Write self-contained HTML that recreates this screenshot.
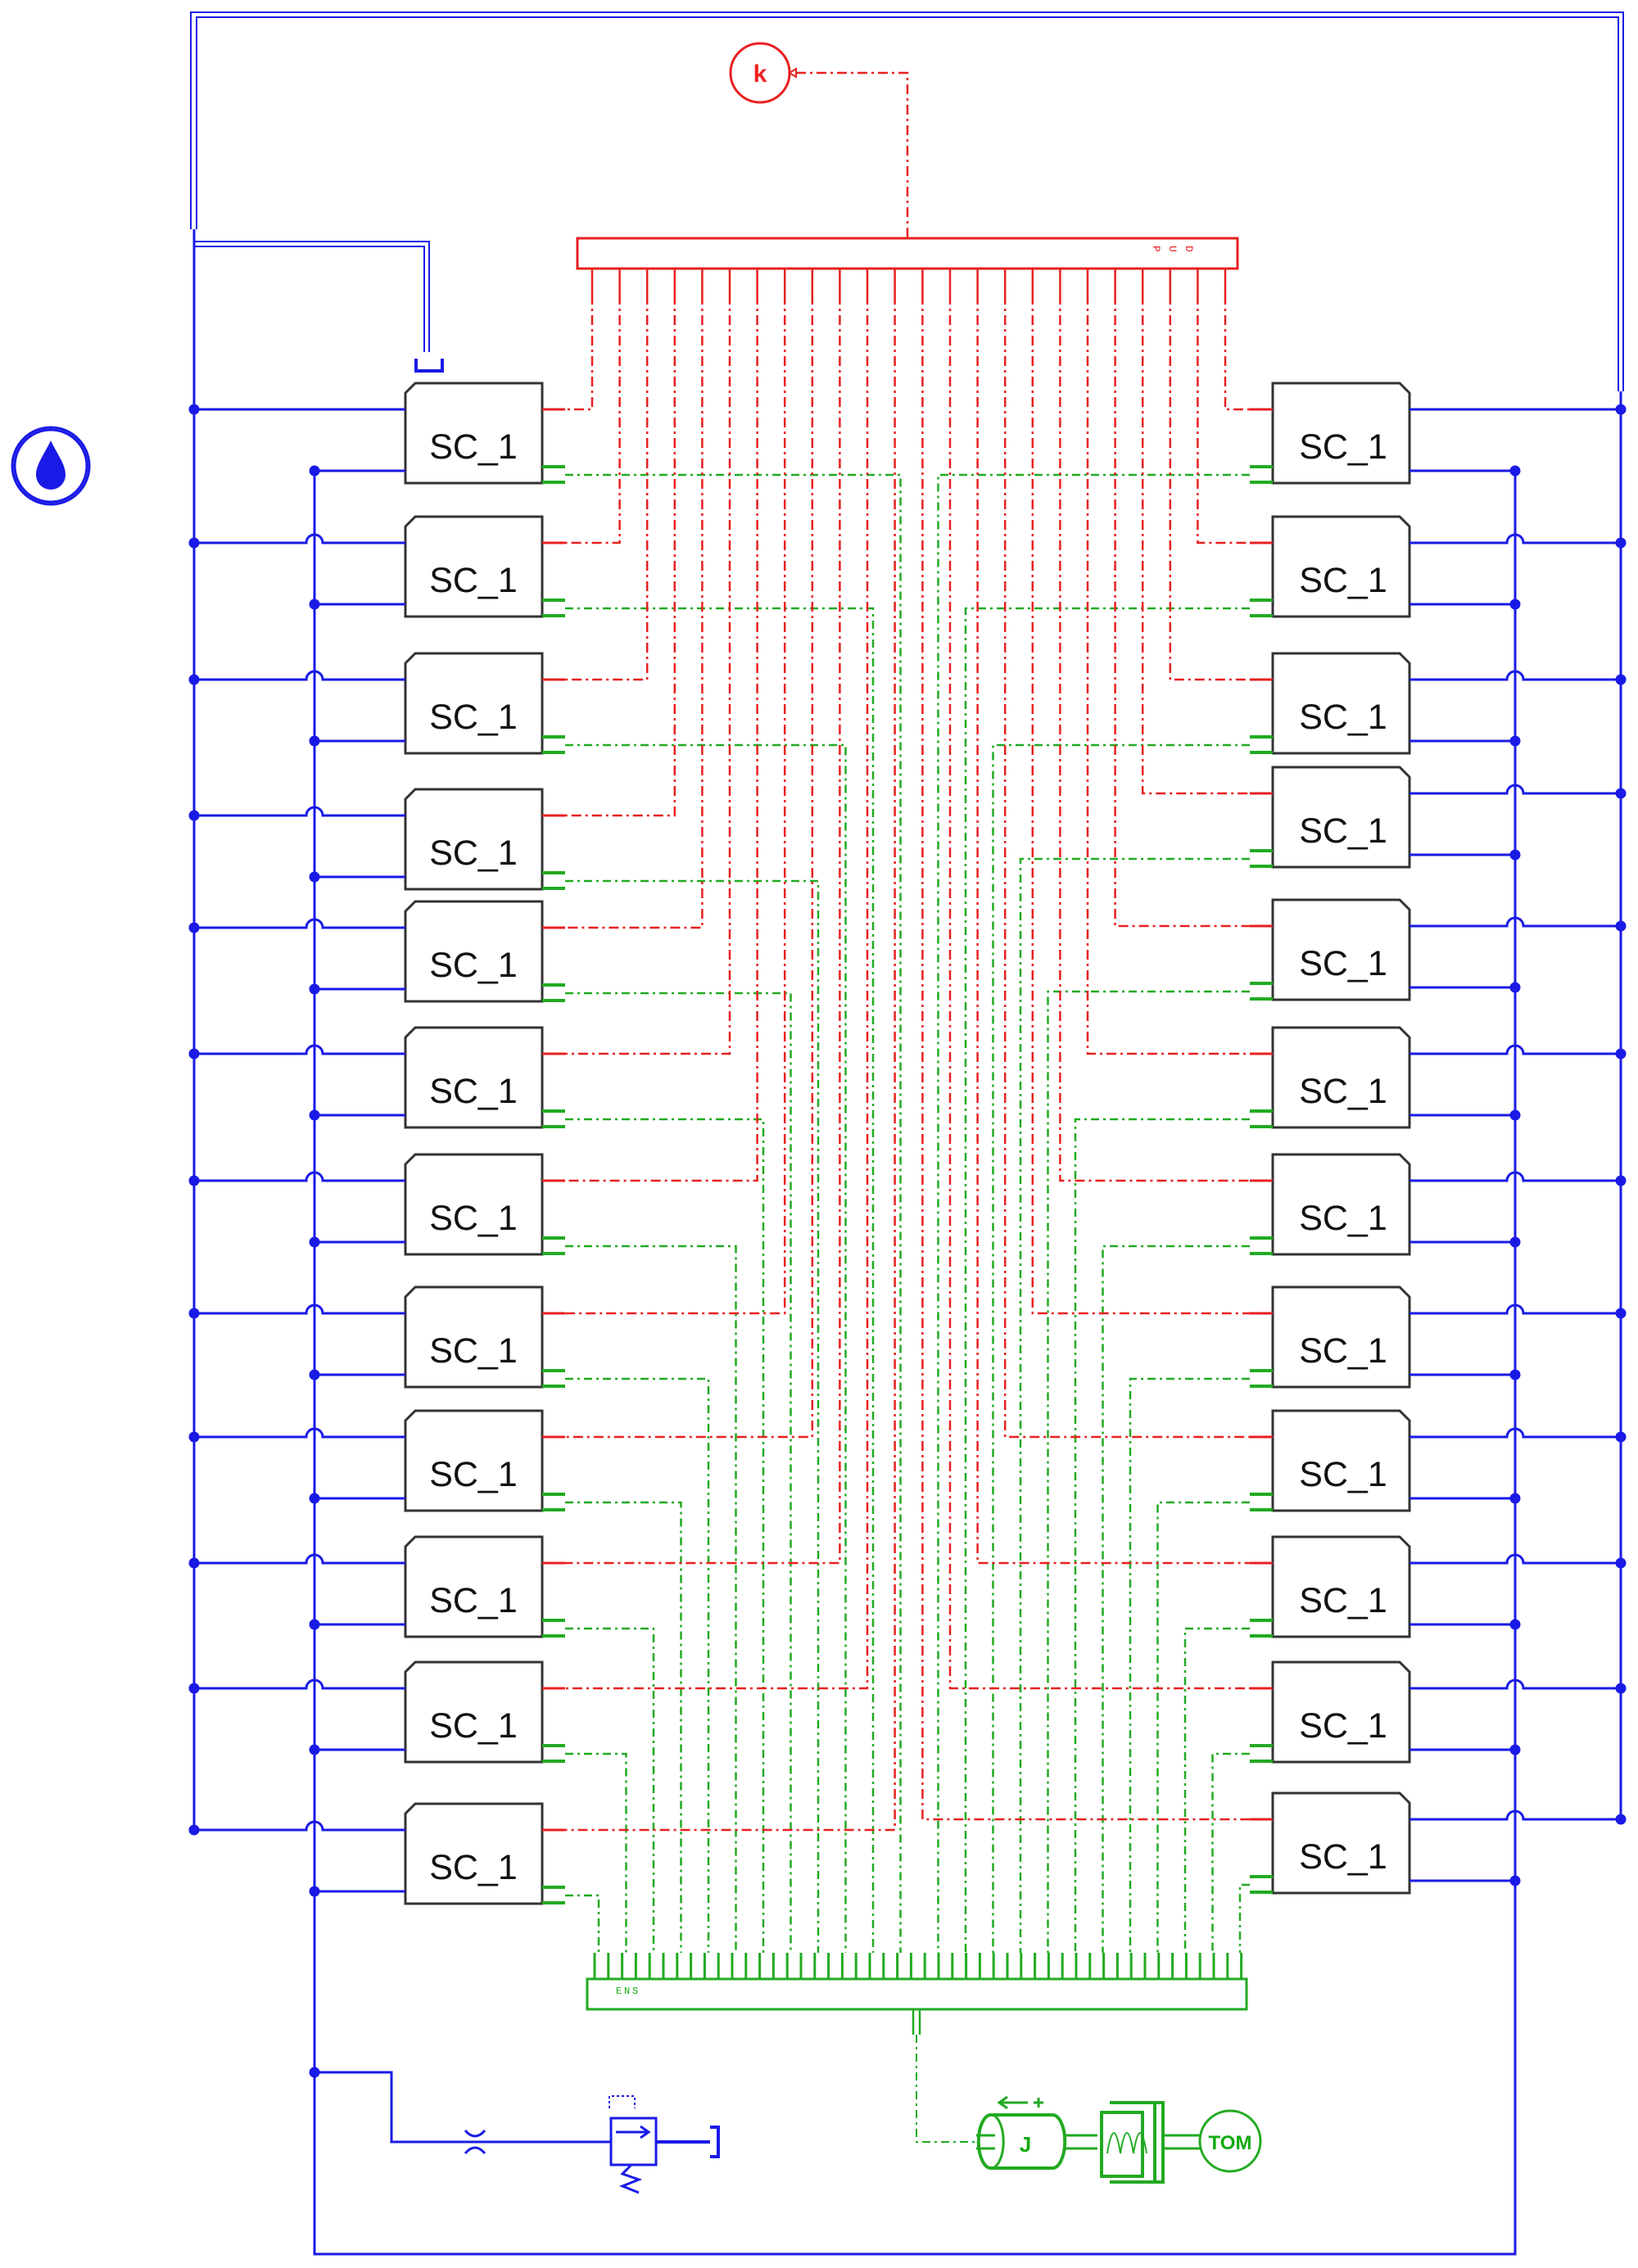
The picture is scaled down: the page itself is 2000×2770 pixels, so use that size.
<!DOCTYPE html>
<html><head><meta charset="utf-8"><style>
html,body{margin:0;padding:0;background:#fff;}
svg{display:block;}
</style></head><body>
<svg id="s" width="2000" height="2770" viewBox="0 0 2000 2770" xmlns="http://www.w3.org/2000/svg">
<g id="g"></g>
<g font-family="Liberation Sans, sans-serif" font-size="43" fill="#111" text-anchor="middle">
<text x="578" y="560">SC_1</text><text x="578" y="723">SC_1</text><text x="578" y="890">SC_1</text><text x="578" y="1056">SC_1</text><text x="578" y="1193">SC_1</text><text x="578" y="1347">SC_1</text><text x="578" y="1502">SC_1</text><text x="578" y="1664">SC_1</text><text x="578" y="1815">SC_1</text><text x="578" y="1969">SC_1</text><text x="578" y="2122">SC_1</text><text x="578" y="2295">SC_1</text>
<text x="1640" y="560">SC_1</text><text x="1640" y="723">SC_1</text><text x="1640" y="890">SC_1</text><text x="1640" y="1029">SC_1</text><text x="1640" y="1191">SC_1</text><text x="1640" y="1347">SC_1</text><text x="1640" y="1502">SC_1</text><text x="1640" y="1664">SC_1</text><text x="1640" y="1815">SC_1</text><text x="1640" y="1969">SC_1</text><text x="1640" y="2122">SC_1</text><text x="1640" y="2282">SC_1</text>
</g>
<text x="928" y="100" font-family="Liberation Sans, sans-serif" font-size="30" font-weight="bold" fill="#e22" text-anchor="middle">k</text>
<text x="1252" y="2628" font-family="Liberation Sans, sans-serif" font-size="26" font-weight="bold" fill="#1a1" text-anchor="middle">J</text>
<text x="1502" y="2625" font-family="Liberation Sans, sans-serif" font-size="24" font-weight="bold" fill="#1a1" text-anchor="middle">TOM</text>
<g font-family="Liberation Mono, monospace" font-size="13" fill="#e22">
<text x="1408" y="300" transform="rotate(90 1408 300)">P</text><text x="1428" y="300" transform="rotate(90 1428 300)">U</text><text x="1448" y="300" transform="rotate(90 1448 300)">D</text>
</g>
<g font-family="Liberation Mono, monospace" font-size="12" fill="#1a1">
<text x="752" y="2435">E</text><text x="762" y="2435">N</text><text x="772" y="2435">S</text>
</g>
</svg>
<script>
var g=document.getElementById('g'),h='';
function L(d,c,w,da){h+='<path d="'+d+'" fill="none" stroke="'+c+'" stroke-width="'+(w||2.5)+'"'+(da?' stroke-dasharray="'+da+'"':'')+'/>';}
function C(x,y,r,c,f){h+='<circle cx="'+x+'" cy="'+y+'" r="'+r+'" fill="'+(f||'none')+'" stroke="'+c+'" stroke-width="3"/>';}
var B='#1a1ae6',R='#e82020',G='#22aa22',RD='12,5,3,5',GD='10,5,3,5';
var Lt=[468,631,798,964,1101,1255,1410,1572,1723,1877,2030,2203];
var Rt=[468,631,798,937,1099,1255,1410,1572,1723,1877,2030,2190];
// top blue double frame
L('M233,280 V15 H1982 V478','#1a1ae6',2);L('M240,280 V21 H1976 V478','#1a1ae6',2);
L('M237,280 V2235',B,3);L('M1979,478 V2222',B,3);
L('M384,575 V2753 H1850 V575',B,3);
// tank branch
L('M237,295 H524 V430',B,2);L('M237,301 H518 V430',B,2);
L('M508,438 V453 H540 V438',B,4);
// red bus
h+='<rect x="705" y="291" width="806" height="37" fill="#fff" stroke="'+R+'" stroke-width="3"/>';
C(928,89,36,R);L('M964,89 L972,84 V94 Z',R,2);
L('M972,89 H1108 V291',R,2.5,RD);
// green bus
h+='<rect x="717" y="2417" width="805" height="37" fill="#fff" stroke="'+G+'" stroke-width="3"/>';
for(var i=0;i<48;i++){var x=726+i*16.8;L('M'+x+',2385 V2417',G,3);}
L('M1115,2454 V2485 M1123,2454 V2485',G,2.5);
L('M1119,2485 V2616 H1200',G,2,GD);
for(var k=0;k<12;k++){
 var t=Lt[k];
 h+='<path d="M507,'+t+' H662 V'+(t+122)+' H495 V'+(t+12)+' Z" fill="#fff" stroke="#333" stroke-width="3"/>';
 var yp=t+32,yb=t+107;
 // blue
 if(k==0)L('M237,'+yp+' H495',B,3);else L('M237,'+yp+' H374 A10,10 0 0 1 394,'+yp+' H495',B,3);
 L('M384,'+yb+' H495',B,3);
 C(237,yp,5,B,B);C(384,yb,5,B,B);
 // red
 var rx=723+k*33.6;
 L('M662,'+yp+' H690',R,3);
 L('M'+rx+',328 V360',R,2.5);
 L('M'+rx+',360 V'+yp+' H690',R,2.5,RD);
 // green
 L('M662,'+(t+102)+' H690 M662,'+(t+121)+' H690',G,4);
 var gx=731+(11-k)*33.5;
 L('M690,'+(t+112)+' H'+gx+' V2385',G,2.5,GD);
}
for(var k=0;k<12;k++){
 var t=Rt[k];
 h+='<path d="M1554,'+t+' H1709 L1721,'+(t+12)+' V'+(t+122)+' H1554 Z" fill="#fff" stroke="#333" stroke-width="3"/>';
 var yp=t+32,yb=t+107;
 if(k==0)L('M1721,'+yp+' H1979',B,3);else L('M1721,'+yp+' H1840 A10,10 0 0 1 1860,'+yp+' H1979',B,3);
 L('M1721,'+yb+' H1850',B,3);
 C(1979,yp,5,B,B);C(1850,yb,5,B,B);
 var rx=1496-k*33.6;
 L('M1554,'+yp+' H1526',R,3);
 L('M'+rx+',328 V360',R,2.5);
 L('M'+rx+',360 V'+yp+' H1526',R,2.5,RD);
 L('M1554,'+(t+102)+' H1526 M1554,'+(t+121)+' H1526',G,4);
 var gx=1514-(11-k)*33.5;
 L('M1526,'+(t+112)+' H'+gx+' V2385',G,2.5,GD);
}
// drop icon
C(62,569,47,B);h+='<circle cx="62" cy="569" r="44" fill="none" stroke="'+B+'" stroke-width="3"/>';
h+='<path d="M62,538 C70,555 80,567 80,580 A18,18 0 0 1 44,580 C44,567 54,555 62,538 Z" fill="'+B+'"/>';
// valve branch
C(384,2531,5,B,B);
L('M384,2531 H478 V2616 H746',B,3);
L('M568,2602 Q580,2616 592,2602 M568,2630 Q580,2616 592,2630',B,3);
h+='<rect x="746" y="2587" width="55" height="57" fill="#fff" stroke="'+B+'" stroke-width="3"/>';
L('M752,2604 H790 M782,2597 L792,2604 L782,2611',B,3);
L('M801,2616 H867 M867,2598 H877 V2634 H867',B,4);
L('M744,2575 V2560 H775 V2575',B,2,'3,3');
L('M770,2645 L760,2655 L780,2662 L760,2670 L780,2678',B,3);
// green mechanical
h+='<path d="M1210,2583 H1285 A15,32 0 0 1 1285,2648 H1210 A15,32 0 0 1 1210,2583 Z" fill="#fff" stroke="'+G+'" stroke-width="4"/>';
L('M1210,2583 A15,32 0 0 1 1210,2648',G,3);
L('M1192,2608 H1215 M1192,2624 H1215',G,3);
L('M1300,2608 H1340 M1300,2624 H1340',G,3);
L('M1345,2580 H1395 V2658 H1345 Z',G,4);
L('M1355,2568 H1420 V2665 H1355 M1410,2568 V2665',G,4);
L('M1352,2630 Q1360,2580 1368,2630 Q1376,2580 1384,2630 Q1392,2580 1400,2630',G,2);
L('M1420,2608 H1465 M1420,2624 H1465',G,3);
C(1502,2615,37,G);
L('M1222,2568 H1255 M1230,2561 L1220,2568 L1230,2575 M1268,2562 V2574 M1262,2568 H1274',G,3);
g.innerHTML=h;
</script>
</body></html>
